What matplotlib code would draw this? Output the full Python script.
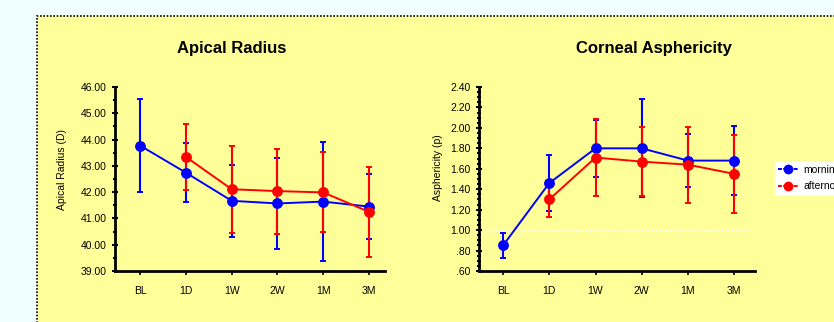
import numpy as np
import matplotlib
matplotlib.use("Agg")
import matplotlib.pyplot as plt
from matplotlib.patches import Rectangle
from matplotlib.lines import Line2D
from matplotlib.ticker import MultipleLocator, FuncFormatter

plt.rcParams['font.family'] = ['Liberation Sans', 'DejaVu Sans']

# donnees
visits = ["BL", "1D", "1W", "2W", "1M", "3M"]

radius_morning = [43.77, 42.74, 41.67, 41.57, 41.64, 41.45]
radius_morning_sd = [1.78, 1.12, 1.38, 1.72, 2.26, 1.25]
radius_afternoon = [np.nan, 43.34, 42.11, 42.04, 41.99, 41.25]
radius_afternoon_sd = [np.nan, 1.25, 1.65, 1.62, 1.52, 1.70]

asph_morning = [0.85, 1.46, 1.80, 1.80, 1.68, 1.68]
asph_morning_sd = [0.12, 0.27, 0.28, 0.48, 0.26, 0.34]
asph_afternoon = [np.nan, 1.30, 1.71, 1.67, 1.64, 1.55]
asph_afternoon_sd = [np.nan, 0.17, 0.38, 0.34, 0.37, 0.38]

BLUE = "#0000ff"
RED = "#ff0000"
W, H = 834, 322

fig = plt.figure(figsize=(W / 100, H / 100), dpi=100, facecolor="#f0ffff")

# panneau jaune avec bordure pointillee
fig.patches.append(Rectangle((37 / W, -0.2), 1.0, 1.2 - 16 / H, transform=fig.transFigure,
                             facecolor="#ffff99", edgecolor="black", linestyle=(0, (1, 1)),
                             linewidth=1.2, zorder=-5))

ax1 = fig.add_axes([115 / W, 1 - 271 / H, 270 / W, 184 / H])
ax2 = fig.add_axes([479 / W, 1 - 271 / H, 276 / W, 184 / H])

x = np.arange(len(visits))


def draw(ax, m, msd, a, asd):
    for y, sd, c in [(m, msd, BLUE), (a, asd, RED)]:
        ax.errorbar(x, y, yerr=sd, color=c, marker="o", markersize=6.8, linewidth=1.4,
                    elinewidth=1.5, capsize=2, capthick=1.4)
    ax.set_facecolor("none")
    for s in ["top", "right"]:
        ax.spines[s].set_visible(False)
    for s in ["left", "bottom"]:
        ax.spines[s].set_linewidth(2)
    ax.set_xticks(x)
    ax.set_xticklabels(visits)
    ax.tick_params(axis="x", length=3, width=1.2, labelsize=7.5, pad=8)
    ax.tick_params(axis="y", which="major", length=4, width=1.5, direction="inout", labelsize=7.5, pad=4)
    ax.tick_params(axis="y", which="minor", length=3, width=1.5, direction="inout")


draw(ax1, radius_morning, radius_morning_sd, radius_afternoon, radius_afternoon_sd)
ax1.set_xlim(-0.55, 5.35)
ax1.set_ylim(39, 46)
ax1.yaxis.set_major_locator(MultipleLocator(1))
ax1.yaxis.set_minor_locator(MultipleLocator(0.5))
ax1.yaxis.set_major_formatter(FuncFormatter(lambda v, p: "%.2f" % v))

draw(ax2, asph_morning, asph_morning_sd, asph_afternoon, asph_afternoon_sd)
ax2.set_xlim(-0.52, 5.45)
ax2.set_ylim(0.6, 2.4)
ax2.axhline(1.0, xmin=0.02, xmax=0.98, color="white", linestyle=(0, (1, 1.5)), linewidth=1, zorder=0)
ax2.yaxis.set_major_locator(MultipleLocator(0.2))
ax2.yaxis.set_minor_locator(MultipleLocator(0.05))
ax2.yaxis.set_major_formatter(FuncFormatter(lambda v, p: ("%.2f" % v).lstrip("0")))

fig.text(232 / W, 1 - 49 / H, "Apical Radius", ha="center", va="center", fontsize=12, fontweight="bold")
fig.text(654 / W, 1 - 49 / H, "Corneal Asphericity", ha="center", va="center", fontsize=12, fontweight="bold")
fig.text(62 / W, 1 - 170 / H, "Apical Radius (D)", rotation=90, ha="center", va="center", fontsize=7.5)
fig.text(438 / W, 1 - 168 / H, "Asphericity (p)", rotation=90, ha="center", va="center", fontsize=7.5)

handles = [Line2D([], [], color=BLUE, marker="o", markersize=6, linewidth=1.4, linestyle=(0, (2, 0.7))),
           Line2D([], [], color=RED, marker="o", markersize=6, linewidth=1.4, linestyle=(0, (2, 0.7)))]
fig.legend(handles, ["morning", "afternoon"], loc="upper left", bbox_to_anchor=(775 / W, 1 - 162 / H),
           fontsize=7.5, frameon=True, facecolor="white", edgecolor="white", framealpha=1, fancybox=False,
           handlelength=1.9, handletextpad=0.5, borderpad=0.3, borderaxespad=0, labelspacing=0.6)

fig.savefig("out.png", dpi=100, facecolor=fig.get_facecolor())
